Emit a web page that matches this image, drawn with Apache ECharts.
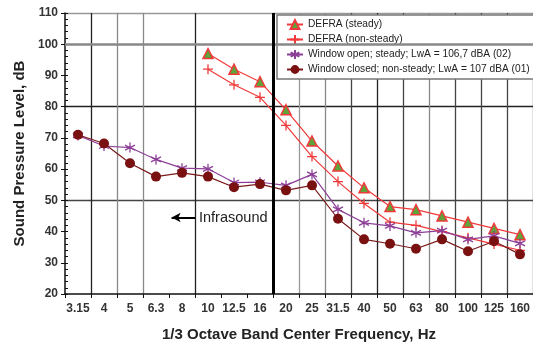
<!DOCTYPE html>
<html>
<head>
<meta charset="utf-8">
<script src="https://cdn.jsdelivr.net/npm/echarts@6/dist/echarts.min.js"></script>
<style>html,body{margin:0;padding:0;background:#fff}#c{width:533px;height:347px}</style>
</head>
<body>
<div id="c"></div>
<script>
var categories = ['3.15','4','5','6.3','8','10','12.5','16','20','25','31.5','40','50','63','80','100','125','160'];
var defraSteady = [null,null,null,null,null,97,92,88,79,69,61,54,48,47,45,43,41,39];
var defraNonSteady = [null,null,null,null,null,92,87,83,74,64,56,49,43,42,40,38,36,34];
var windowOpen = [70.8,67.4,66.9,63.1,60.3,60.1,55.7,55.8,54.8,58.3,47.1,42.8,41.8,39.6,40.3,37.5,38.6,36.2];
var windowClosed = [71,68.2,61.9,57.6,58.8,57.6,54.2,55.2,53.2,54.8,44.1,37.5,36.1,34.5,37.5,33.7,36.9,32.7];
var seriesNames = ['DEFRA (steady)','DEFRA (non-steady)','Window open; steady; LwA = 106,7 dBA (02)','Window closed; non-steady; LwA = 107 dBA (01)'];
var yTicks = {min:20, max:110, interval:10};
var infrasoundBoundary = 8;

var chart = echarts.init(document.getElementById('c'), null, {renderer:'canvas'});
var vGridIdx = [1,2,3,5,9,10,11,12,13,14,15,16,17];
var vGridColors = ['#222','#888','#888','#222','#999','#888','#444','#222','#444','#888','#444','#444','#444','#444'];
var hGridColors = ['transparent','transparent','transparent','#444','transparent','transparent','#222','transparent','transparent','#999'];
var fontF = 'Arial, "Liberation Sans", sans-serif';

chart.setOption({
  animation:false,
  grid:{left:65, right:-5, top:13, bottom:39},
  legend:{
    data:seriesNames, orient:'vertical', left:277, top:15,
    padding:[3,10,3,9], itemGap:2, itemWidth:16, itemHeight:11,
    backgroundColor:'#fff', borderColor:'#777', borderWidth:1.5,
    textStyle:{fontFamily:fontF, fontSize:10.2, color:'#222', lineHeight:13}
  },
  xAxis:[{
    type:'category', data:categories, boundaryGap:true,
    name:'1/3 Octave Band Center Frequency, Hz', nameLocation:'middle', nameGap:33,
    nameTextStyle:{fontFamily:fontF, fontSize:15, fontWeight:'bold', color:'#222'},
    axisLine:{lineStyle:{color:'#111', width:1.5}},
    axisTick:{show:true, length:4, lineStyle:{color:'#111'}},
    axisLabel:{fontFamily:fontF, fontSize:12, fontWeight:'bold', color:'#333', margin:9, interval:0},
    splitLine:{show:true, interval:function(i){return vGridIdx.indexOf(i)>=0;}, lineStyle:{color:vGridColors, width:1.3}}
  },{
    type:'value', min:0, max:18, show:false
  }],
  yAxis:[{
    type:'value', min:yTicks.min, max:yTicks.max, interval:yTicks.interval,
    name:'Sound Pressure Level, dB', nameLocation:'middle', nameGap:37,
    nameTextStyle:{fontFamily:fontF, fontSize:15, fontWeight:'bold', color:'#222'},
    axisLine:{show:true, lineStyle:{color:'#111', width:1.5}},
    axisTick:{show:true, length:4, lineStyle:{color:'#111'}},
    axisLabel:{fontFamily:fontF, fontSize:12, fontWeight:'bold', color:'#333', margin:7},
    splitLine:{show:true, lineStyle:{color:hGridColors, width:1.3}}
  },{
    type:'value', min:yTicks.min, max:yTicks.max, interval:yTicks.interval, position:'left',
    axisLine:{show:false}, axisLabel:{show:false},
    axisTick:{show:true, inside:true, length:3, lineStyle:{color:'#111'}},
    minorTick:{show:true, splitNumber:5, length:3, lineStyle:{color:'#111'}},
    splitLine:{show:false}
  }],
  series:[{
    type:'line', xAxisIndex:1, yAxisIndex:0, data:[], silent:true, z:1,
    markLine:{
      silent:true, animation:false,
      data:[
        [{coord:[0,100], symbol:'none', lineStyle:{color:'#888', width:2.5, type:'solid'}, label:{show:false}},
         {coord:[18,100], symbol:'none'}],
        [{coord:[infrasoundBoundary,20], symbol:'none', lineStyle:{color:'#000', width:3, type:'solid'}, label:{show:false}},
         {coord:[infrasoundBoundary,110], symbol:'none'}],
        [{coord:[4.1,44.5], symbol:'arrow', symbolSize:[7,9], lineStyle:{color:'#000', width:2, type:'solid'},
          label:{show:true, position:'end', formatter:'Infrasound', distance:4, fontFamily:fontF, fontSize:14.5, color:'#222'}},
         {coord:[5,44.5], symbol:'none'}]
      ]
    }
  },{
    name:seriesNames[0], type:'line', data:defraSteady, xAxisIndex:0, z:3,
    symbol:'triangle', symbolSize:10,
    lineStyle:{color:'#f03a3a', width:1.2},
    itemStyle:{color:'#5fa33a', borderColor:'#f03a3a', borderWidth:1.5}
  },{
    name:seriesNames[1], type:'line', data:defraNonSteady, xAxisIndex:0, z:3,
    symbol:'path://M0,5L10,5M5,0L5,10', symbolSize:10,
    lineStyle:{color:'#f03a3a', width:1.2},
    itemStyle:{color:'#f03a3a', borderColor:'#f03a3a', borderWidth:1.3}
  },{
    name:seriesNames[2], type:'line', data:windowOpen, xAxisIndex:0, z:3,
    symbol:'path://M5,0L5,10M0.7,2.5L9.3,7.5M9.3,2.5L0.7,7.5', symbolSize:10,
    lineStyle:{color:'#8d3f98', width:1.2},
    itemStyle:{color:'#8d3f98', borderColor:'#8d3f98', borderWidth:1.3}
  },{
    name:seriesNames[3], type:'line', data:windowClosed, xAxisIndex:0, z:3,
    symbol:'circle', symbolSize:10,
    lineStyle:{color:'#7a1a1a', width:1.2},
    itemStyle:{color:'#7a1111', borderColor:'#7a1111', borderWidth:0}
  }]
});
</script>
</body>
</html>
